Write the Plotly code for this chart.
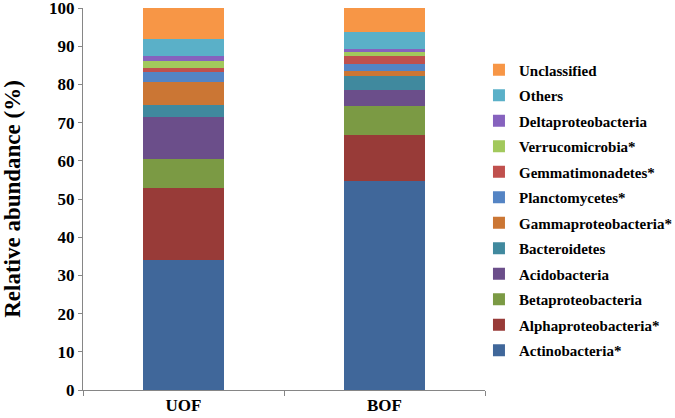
import plotly.graph_objects as go

categories = ["UOF", "BOF"]
taxa = ["Actinobacteria*", "Alphaproteobacteria*", "Betaproteobacteria", "Acidobacteria",
        "Bacteroidetes", "Gammaproteobacteria*", "Planctomycetes*", "Gemmatimonadetes*",
        "Verrucomicrobia*", "Deltaproteobacteria", "Others", "Unclassified"]
uof_values = [34.0, 18.9, 7.6, 10.9, 3.3, 5.8, 2.8, 1.0, 1.9, 1.2, 4.4, 8.2]
bof_values = [54.7, 12.0, 7.7, 4.1, 3.6, 1.3, 2.0, 2.1, 0.9, 0.9, 4.5, 6.2]
colors = ["#40679A", "#983B38", "#7B9A44", "#6B4E8A", "#40899E", "#CB7634",
          "#5484C4", "#C0504D", "#A2C95C", "#8662BE", "#5AB0C8", "#F79646"]

FONT = "Liberation Serif"

fig = go.Figure()
for i, name in enumerate(taxa):
    fig.add_trace(go.Bar(
        x=categories, y=[uof_values[i], bof_values[i]], name=name,
        marker=dict(color=colors[i], line=dict(width=0)),
        width=0.4, legendgroup=name, legendrank=1000 - i,
    ))

fig.update_layout(
    barmode="stack",
    width=675, height=418,
    margin=dict(l=83, r=190, t=8, b=28, autoexpand=False),
    paper_bgcolor="white", plot_bgcolor="white",
    font=dict(family=FONT, color="black", weight="bold"),
    legend=dict(
        traceorder="grouped", tracegroupgap=3,
        x=0.985, xanchor="left", y=0.881, yanchor="top",
        font=dict(family=FONT, size=15, color="black", weight="bold"),
        itemwidth=30, bgcolor="rgba(0,0,0,0)",
    ),
    xaxis=dict(
        type="category", range=[-0.5, 1.5], tickson="boundaries",
        showline=True, linecolor="#868686", linewidth=1,
        ticks="outside", ticklen=5, tickcolor="#868686",
        tickfont=dict(family=FONT, size=17, color="black", weight="bold"),
        showgrid=False, zeroline=False, automargin=False,
    ),
    yaxis=dict(
        range=[0, 100], tickvals=list(range(0, 101, 10)),
        showline=True, linecolor="#868686", linewidth=1,
        ticks="outside", ticklen=4, tickcolor="#868686",
        tickfont=dict(family=FONT, size=17, color="black", weight="bold"),
        ticklabeloverflow="allow",
        showgrid=False, zeroline=False, automargin=False,
        title=dict(text="Relative abundance (%)", standoff=28,
                   font=dict(family=FONT, size=23, color="black", weight="bold")),
    ),
)

fig.write_html("out.html", config={"displayModeBar": False},
               post_script="document.body.style.margin='0';document.body.style.overflow='hidden';")
